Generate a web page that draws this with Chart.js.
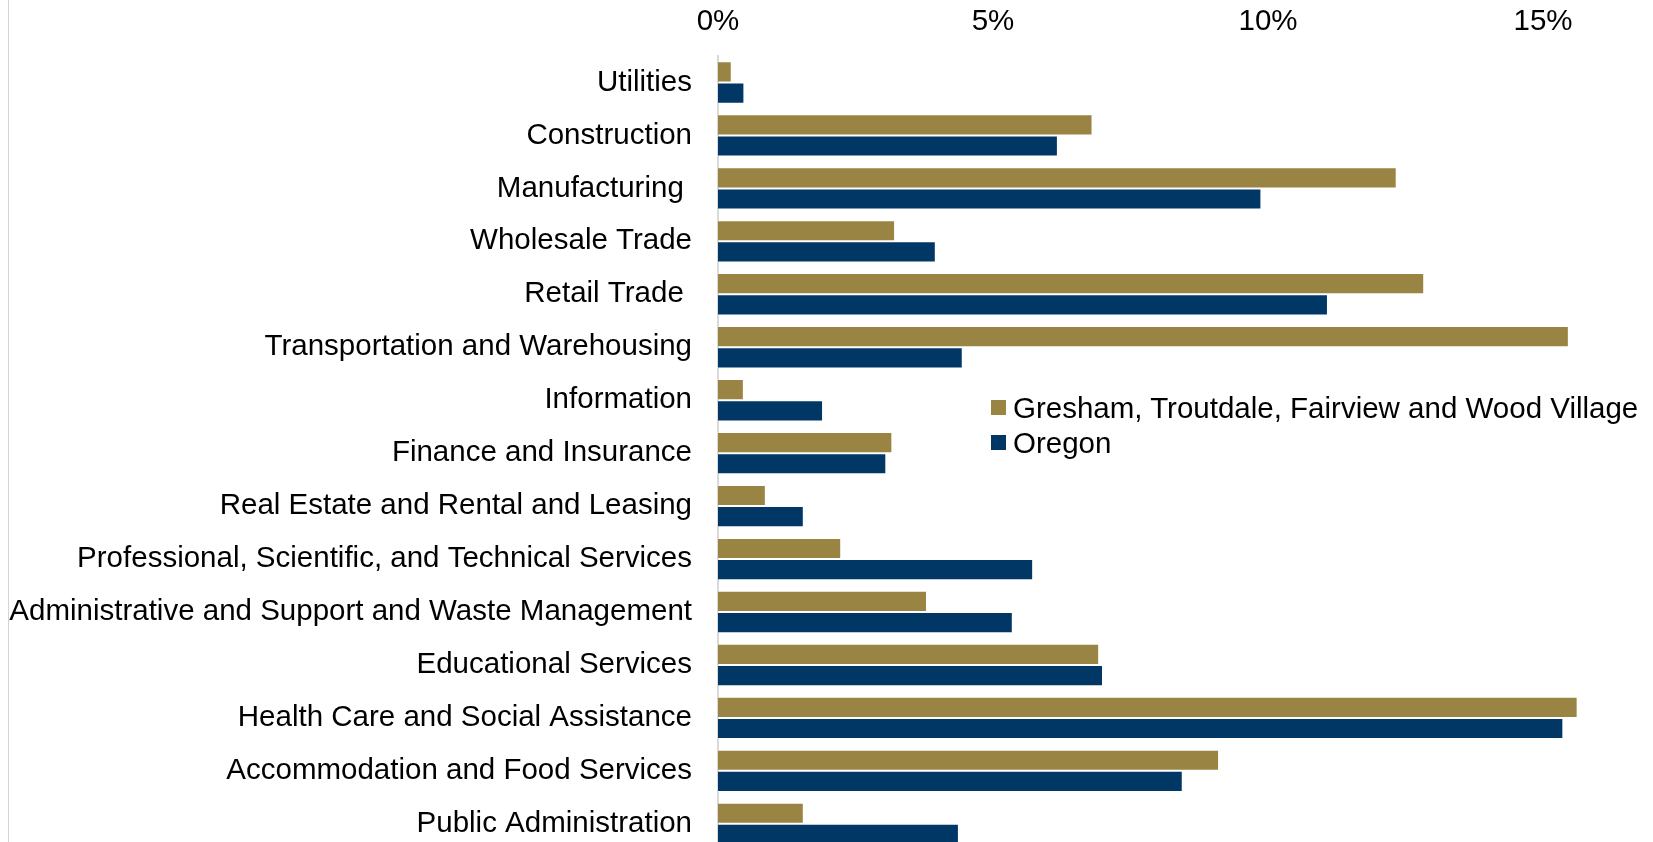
<!DOCTYPE html>
<html>
<head>
<meta charset="utf-8">
<script src="https://cdn.jsdelivr.net/npm/chart.js@4/dist/chart.umd.min.js"></script>
<style>
    html, body { margin: 0; padding: 0; overflow: hidden; background: #fff; }
    #wrap { position: relative; width: 1653px; height: 842px; overflow: hidden; }
    #box { position: absolute; left: 0; top: 0; width: 1653px; height: 894px; }
    #frame { position: absolute; left: 8px; top: 0; width: 0; height: 842px; border-left: 1px solid #d4d4d4; }
    #legend { position: absolute; left: 991px; top: 390px; font-family: "Liberation Sans", Arial, sans-serif; font-size: 29.5px; color: #000; }
    #legend .row { display: flex; align-items: center; height: 35px; white-space: nowrap; }
    #legend .box { width: 15px; height: 15px; margin-right: 7px; }
</style>
</head>
<body>
<div id="wrap">
    <div id="box"><canvas id="industry-chart"></canvas></div>
    <div id="frame"></div>
    <div id="legend"></div>
</div>
<script>
const industries = [
    "Utilities",
    "Construction",
    "Manufacturing ",
    "Wholesale Trade",
    "Retail Trade ",
    "Transportation and Warehousing",
    "Information",
    "Finance and Insurance",
    "Real Estate and Rental and Leasing",
    "Professional, Scientific, and Technical Services",
    "Administrative and Support and Waste Management",
    "Educational Services",
    "Health Care and Social Assistance",
    "Accommodation and Food Services",
    "Public Administration",
];
const greshamArea = [0.25, 6.81, 12.34, 3.22, 12.84, 15.47, 0.47, 3.17, 0.87, 2.24, 3.80, 6.93, 15.63, 9.11, 1.56];
const oregon = [0.48, 6.18, 9.88, 3.96, 11.09, 4.45, 1.91, 3.06, 1.56, 5.73, 5.36, 7.0, 15.37, 8.45, 4.38];
const seriesNames = ["Gresham, Troutdale, Fairview and Wood Village", "Oregon"];
const seriesColors = ["#9a8444", "#003764"];
const tickStep = 5;

const font = { family: "'Liberation Sans', Arial, sans-serif", size: 29.5 };

ctx = document.querySelector("#industry-chart");
const chart = new Chart(ctx, {
    type: "bar",
    data: {
        labels: industries,
        datasets: [
            {
                label: seriesNames[0],
                data: greshamArea,
                backgroundColor: seriesColors[0],
                borderColor: "rgba(255,255,255,0.45)",
                borderWidth: 1,
            },
            {
                label: seriesNames[1],
                data: oregon,
                backgroundColor: seriesColors[1],
                borderColor: "rgba(255,255,255,0.45)",
                borderWidth: 1,
            },
        ],
    },
    options: {
        indexAxis: "y",
        responsive: true,
        maintainAspectRatio: false,
        animation: false,
        devicePixelRatio: 1,
        layout: { padding: 0 },
        categoryPercentage: 0.8,
        barPercentage: 1.0,
        plugins: {
            legend: { display: false },
            tooltip: { enabled: false },
        },
        scales: {
            x: {
                position: "top",
                min: 0,
                max: 17,
                grid: { display: false, drawTicks: false },
                border: { display: false },
                ticks: {
                    stepSize: tickStep,
                    includeBounds: false,
                    padding: 16,
                    color: "#000",
                    font: font,
                    callback: (v) => v + "%",
                },
                afterFit: (scale) => { scale.height = 56; },
            },
            y: {
                grid: { display: false, drawTicks: false },
                border: { display: true, color: "#d9d9d9", width: 2 },
                ticks: {
                    padding: 26,
                    color: "#000",
                    font: font,
                    autoSkip: false,
                },
                afterFit: (scale) => { scale.width = 718; },
            },
        },
    },
});

// legend built from the dataset names and colours
const legend = document.querySelector("#legend");
chart.data.datasets.forEach((ds) => {
    const row = document.createElement("div");
    row.className = "row";
    const box = document.createElement("span");
    box.className = "box";
    box.style.background = ds.backgroundColor;
    const txt = document.createElement("span");
    txt.textContent = ds.label;
    row.appendChild(box);
    row.appendChild(txt);
    legend.appendChild(row);
});
</script>
</body>
</html>
